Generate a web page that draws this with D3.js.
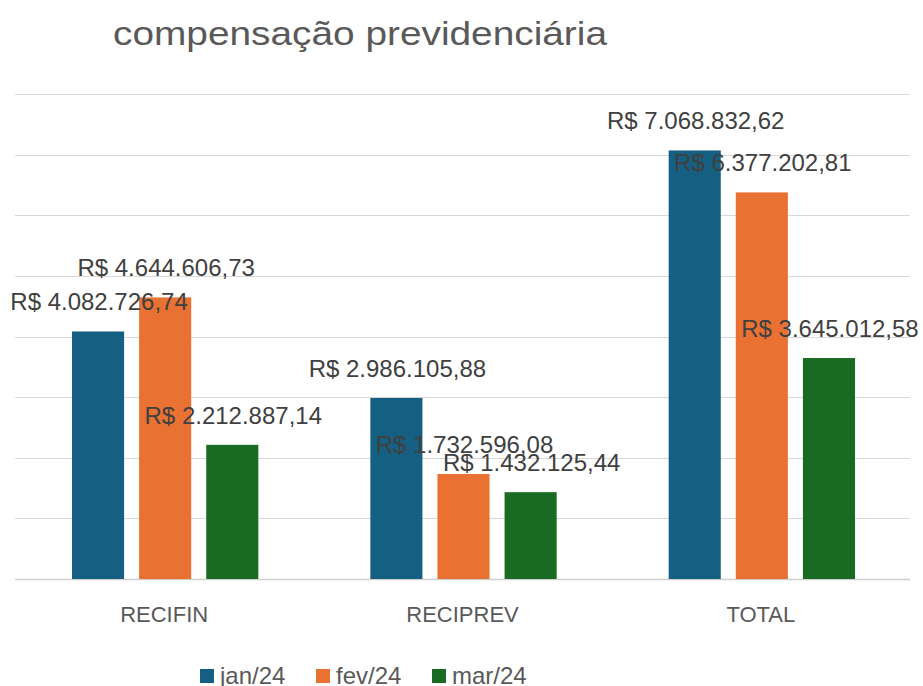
<!DOCTYPE html>
<html><head><meta charset="utf-8">
<script src="https://cdn.jsdelivr.net/npm/d3@7"></script>
<style>body{margin:0;background:#fff}svg{display:block}</style>
</head><body>
<svg id="c" width="923" height="686"></svg>
<script>
const title = "compensação previdenciária";
const categories = ["RECIFIN", "RECIPREV", "TOTAL"];
const seriesNames = ["jan/24", "fev/24", "mar/24"];
const jan = [4082726.74, 2986105.88, 7068832.62];
const fev = [4644606.73, 1732596.08, 6377202.81];
const mar = [2212887.14, 1432125.44, 3645012.58];
const colors = ["#156082", "#E97132", "#196B24"];
const yTicks = [0, 1e6, 2e6, 3e6, 4e6, 5e6, 6e6, 7e6, 8e6];

const seriesVals = [jan, fev, mar];
const svg = d3.select("#c");
const font = "'Liberation Sans', Arial, sans-serif";

const x0 = d3.scaleBand().domain(categories).range([15, 910]).paddingInner(0).paddingOuter(0);
const groupPad = 57;
const x1 = d3.scaleBand().domain(seriesNames).range([groupPad, x0.bandwidth() - groupPad + 2]).paddingInner(15/67).paddingOuter(0);
const y = d3.scaleLinear().domain([0, 8e6]).range([579, 94]);

// gridlines
svg.append("g").selectAll("line").data(yTicks).join("line")
  .attr("x1", 15).attr("x2", 910)
  .attr("y1", d => Math.round(y(d)) + 0.5).attr("y2", d => Math.round(y(d)) + 0.5)
  .attr("stroke", d => d === 0 ? "#cfcfcf" : "#d9d9d9").attr("stroke-width", d => d === 0 ? 1.5 : 1);

// title
svg.append("text").text(title)
  .attr("x", 113).attr("y", 45)
  .attr("font-family", font).attr("font-size", 34).attr("fill", "#595959")
  .attr("textLength", 494).attr("lengthAdjust", "spacingAndGlyphs");

// bars
const rows = [];
categories.forEach((c, i) => seriesNames.forEach((s, j) => rows.push({c, s, j, v: seriesVals[j][i]})));
svg.append("g").selectAll("rect").data(rows).join("rect")
  .attr("x", d => x0(d.c) + x1(d.s))
  .attr("width", x1.bandwidth())
  .attr("y", d => y(d.v))
  .attr("height", d => y(0) - y(d.v))
  .attr("fill", d => colors[d.j]);

// labels
const fmt = v => "R$ " + v.toLocaleString("pt-BR", {minimumFractionDigits: 2, maximumFractionDigits: 2});
svg.append("g").selectAll("text").data(rows).join("text")
  .attr("x", d => x0(d.c) + x1(d.s) + x1.bandwidth() / 2 + 1)
  .attr("y", d => y(d.v) - 21)
  .attr("text-anchor", "middle")
  .attr("font-family", font).attr("font-size", 24).attr("fill", "#404040")
  .text(d => fmt(d.v));

// x axis labels
const xAxis = d3.axisBottom(x0).tickSize(0).tickPadding(0);
const gx = svg.append("g").attr("transform", "translate(0,579)").call(xAxis);
gx.select(".domain").remove();
gx.selectAll("text").attr("y", 43).attr("dy", 0)
  .attr("font-family", font).attr("font-size", 22).attr("fill", "#595959");

// legend
const legendX = [200, 316, 432];
const lg = svg.append("g");
seriesNames.forEach((s, j) => {
  lg.append("rect").attr("x", legendX[j]).attr("y", 669).attr("width", 14).attr("height", 14).attr("fill", colors[j]);
  lg.append("text").attr("x", legendX[j] + 20).attr("y", 684).text(s)
    .attr("font-family", font).attr("font-size", 24).attr("fill", "#595959");
});
</script>
</body></html>
